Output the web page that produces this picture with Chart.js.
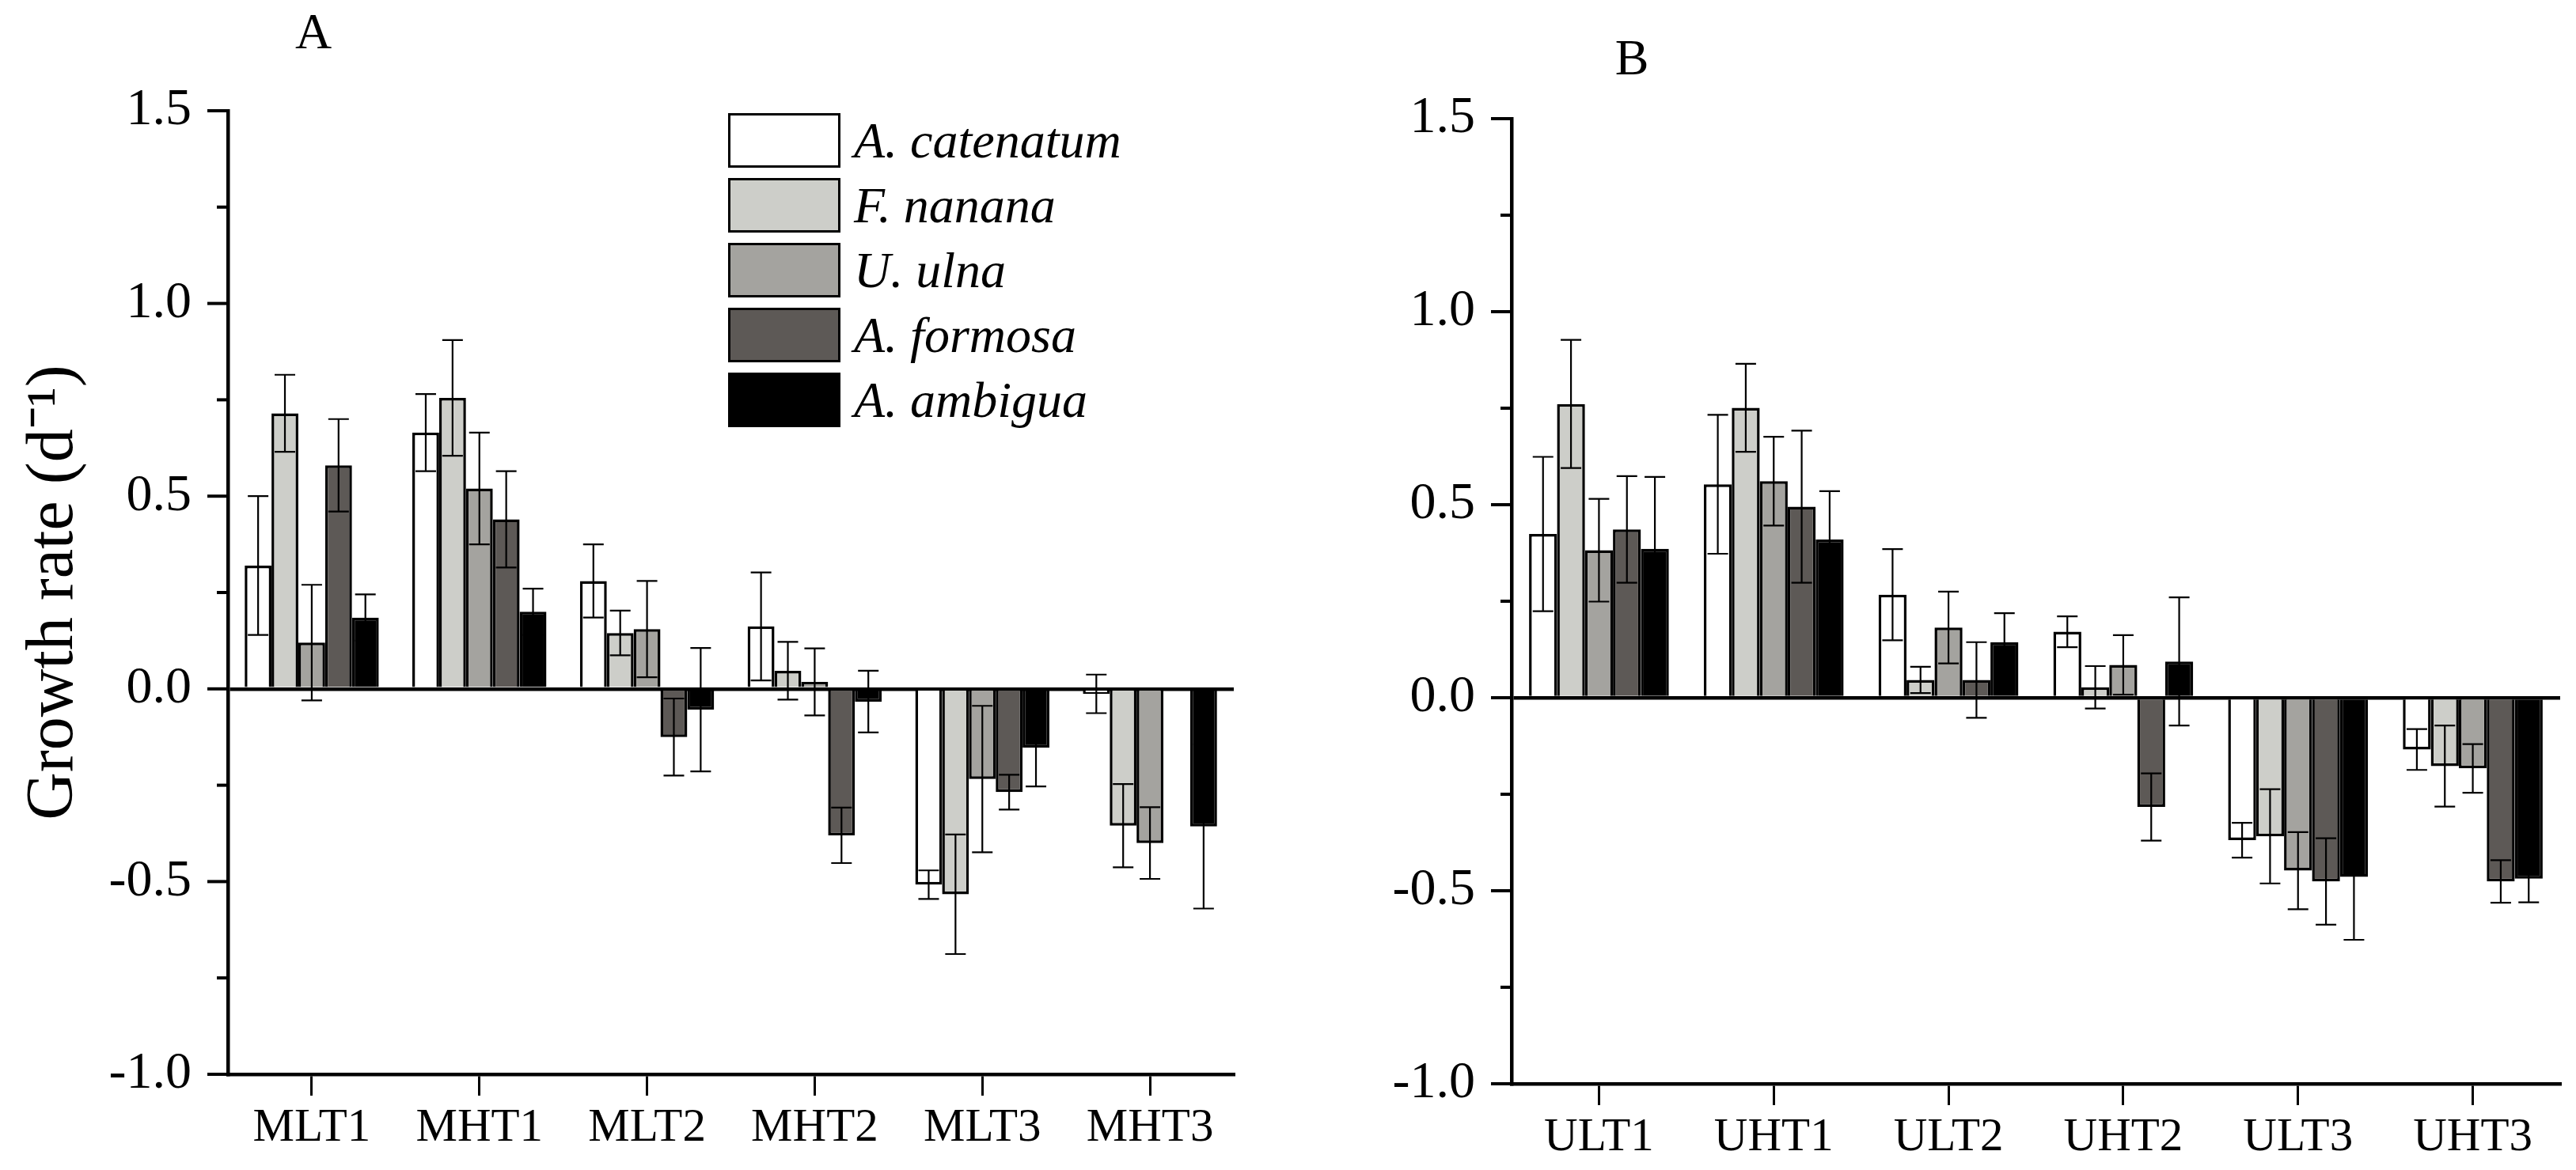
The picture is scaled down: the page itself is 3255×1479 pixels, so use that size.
<!DOCTYPE html>
<html>
<head>
<meta charset="utf-8">
<script src="https://cdn.jsdelivr.net/npm/chart.js@4.4.1/dist/chart.umd.min.js"></script>
<style>
  body { margin: 0; background: #fff; }
  #page { position: relative; width: 3255px; height: 1479px; overflow: hidden; background: #fff;
          font-family: 'Liberation Serif', 'Times New Roman', serif; color: #000; }
  canvas { position: absolute; top: 0; }
  .panel { position: absolute; width: 100px; text-align: center; font-size: 64px; line-height: 64px; }
  .legend-row { position: absolute; left: 920px; height: 69px; display: flex; align-items: center; }
  .legend-box { width: 142px; height: 69px; box-sizing: border-box; border: 3.5px solid #000; }
  .legend-text { margin-left: 17px; font-style: italic; font-size: 64px; line-height: 69px; white-space: nowrap; }
</style>
</head>
<body>
<div id="page">
  <canvas id="chartA" width="1628" height="1479" style="left:0"></canvas>
  <canvas id="chartB" width="1627" height="1479" style="left:1628px"></canvas>
  <div class="panel" style="left:346px; top:8px">A</div>
  <div class="panel" style="left:2012px; top:41px">B</div>
  <div id="legend"></div>
</div>
<script>
// species (series) shared by both panels
const species = ['A. catenatum', 'F. nanana', 'U. ulna', 'A. formosa', 'A. ambigua'];
const fills = ['#ffffff', '#cdcec9', '#a4a39f', '#5d5956', '#000000'];

const yTicks = [-1.0, -0.75, -0.5, -0.25, 0, 0.25, 0.5, 0.75, 1.0, 1.25, 1.5];

// panel A
const catsA = ['MLT1', 'MHT1', 'MLT2', 'MHT2', 'MLT3', 'MHT3'];
const catenatumA = [0.32, 0.665, 0.28, 0.162, -0.508, -0.013];
const nananaA    = [0.715, 0.755, 0.145, 0.047, -0.533, -0.355];
const ulnaA      = [0.12, 0.52, 0.155, 0.018, -0.234, -0.40];
const formosaA   = [0.58, 0.44, -0.125, -0.38, -0.268, null];
const ambiguaA   = [0.185, 0.20, -0.054, -0.033, -0.153, -0.357];
const catenatumAErr = [0.18, 0.10, 0.095, 0.14, 0.037, 0.05];
const nananaAErr    = [0.10, 0.15, 0.058, 0.075, 0.155, 0.108];
const ulnaAErr      = [0.15, 0.145, 0.125, 0.087, 0.19, 0.093];
const formosaAErr   = [0.12, 0.125, 0.10, 0.072, 0.045, null];
const ambiguaAErr   = [0.06, 0.06, 0.16, 0.08, 0.10, 0.213];

// panel B
const catsB = ['ULT1', 'UHT1', 'ULT2', 'UHT2', 'ULT3', 'UHT3'];
const catenatumB = [0.424, 0.553, 0.267, 0.171, -0.369, -0.134];
const nananaB    = [0.761, 0.751, 0.046, 0.027, -0.359, -0.177];
const ulnaB      = [0.382, 0.561, 0.182, 0.085, -0.448, -0.183];
const formosaB   = [0.436, 0.495, 0.046, -0.283, -0.476, -0.476];
const ambiguaB   = [0.386, 0.41, 0.144, 0.094, -0.464, -0.469];
const catenatumBErr = [0.20, 0.18, 0.118, 0.04, 0.045, 0.053];
const nananaBErr    = [0.166, 0.114, 0.034, 0.055, 0.122, 0.105];
const ulnaBErr      = [0.133, 0.115, 0.093, 0.077, 0.10, 0.063];
const formosaBErr   = [0.138, 0.197, 0.098, 0.087, 0.112, 0.055];
const ambiguaBErr   = [0.186, 0.125, 0.075, 0.166, 0.163, 0.061];

Chart.defaults.font.family = "'Liberation Serif', 'Times New Roman', serif";
Chart.defaults.color = '#000';

// error bars drawn over the bars
const errorBars = {
  id: 'errorBars',
  afterDatasetsDraw(chart) {
    const ctx = chart.ctx, y = chart.scales.y;
    ctx.save();
    ctx.strokeStyle = '#000';
    ctx.lineWidth = 2.2;
    chart.data.datasets.forEach((ds, i) => {
      chart.getDatasetMeta(i).data.forEach((bar, j) => {
        const v = ds.data[j], e = ds.errors[j];
        if (v == null || e == null) return;
        const top = y.getPixelForValue(v + e), bot = y.getPixelForValue(v - e);
        ctx.beginPath();
        ctx.moveTo(bar.x, top); ctx.lineTo(bar.x, bot);
        ctx.moveTo(bar.x - 13, top); ctx.lineTo(bar.x + 13, top);
        ctx.moveTo(bar.x - 13, bot); ctx.lineTo(bar.x + 13, bot);
        ctx.stroke();
      });
    });
    ctx.restore();
  }
};

// major/minor ticks on the y axis
const yAxisTicks = {
  id: 'yAxisTicks',
  afterDraw(chart) {
    const ctx = chart.ctx, y = chart.scales.y, left = chart.chartArea.left;
    ctx.save();
    ctx.strokeStyle = '#000';
    ctx.lineWidth = 4;
    for (const v of yTicks) {
      const py = y.getPixelForValue(v);
      const major = Math.abs(v * 2 - Math.round(v * 2)) < 1e-6;
      ctx.beginPath();
      ctx.moveTo(left, py);
      ctx.lineTo(left - (major ? 26 : 14), py);
      ctx.stroke();
    }
    ctx.restore();
  }
};

function makeChart(id, cats, values, errors, box, title) {
  const datasets = species.map((name, i) => ({
    label: name,
    data: values[i],
    errors: errors[i],
    backgroundColor: fills[i],
    borderColor: '#000',
    borderWidth: 3.5,
    categoryPercentage: 0.8,
    barPercentage: 1.0
  }));
  return new Chart(document.getElementById(id), {
    type: 'bar',
    data: { labels: cats, datasets: datasets },
    plugins: [errorBars, yAxisTicks],
    options: {
      responsive: false,
      animation: false,
      layout: { autoPadding: false, padding: { left: 0, top: box.top, right: box.right, bottom: 0 } },
      plugins: { legend: { display: false }, tooltip: { enabled: false } },
      scales: {
        x: {
          afterFit: s => { s.height = box.xHeight; },
          grid: { offset: false, drawOnChartArea: false, drawTicks: true, tickLength: 27, color: '#000', lineWidth: 3 },
          border: { display: true, color: '#000', width: 4.5 },
          ticks: { font: { size: 59 }, padding: 6, maxRotation: 0, autoSkip: false }
        },
        y: {
          min: -1, max: 1.5, z: 1,
          afterFit: s => { s.width = box.left; },
          grid: {
            drawTicks: false,
            color: c => (c.tick && c.tick.value === 0 ? '#000' : 'rgba(0,0,0,0)'),
            lineWidth: 4.5
          },
          border: { display: true, color: '#000', width: 4.5 },
          ticks: { stepSize: 0.5, font: { size: 66 }, padding: 46, callback: v => v.toFixed(1) },
          title: {
            display: !!title, text: title || '',
            font: { size: 84 }, padding: { top: 19, bottom: 0 }
          }
        }
      }
    }
  });
}

makeChart('chartA', catsA,
  [catenatumA, nananaA, ulnaA, formosaA, ambiguaA],
  [catenatumAErr, nananaAErr, ulnaAErr, formosaAErr, ambiguaAErr],
  { left: 288, top: 140, right: 69, xHeight: 121 },
  'Growth rate (d\u207B\u00B9)');

makeChart('chartB', catsB,
  [catenatumB, nananaB, ulnaB, formosaB, ambiguaB],
  [catenatumBErr, nananaBErr, ulnaBErr, formosaBErr, ambiguaBErr],
  { left: 282, top: 150, right: 20, xHeight: 109 },
  null);

// legend inside panel A
const legend = document.getElementById('legend');
species.forEach((name, i) => {
  const row = document.createElement('div');
  row.className = 'legend-row';
  row.style.top = (143 + i * 82) + 'px';
  const sw = document.createElement('div');
  sw.className = 'legend-box';
  sw.style.background = fills[i];
  const tx = document.createElement('span');
  tx.className = 'legend-text';
  tx.textContent = name;
  row.appendChild(sw);
  row.appendChild(tx);
  legend.appendChild(row);
});
</script>
</body>
</html>
